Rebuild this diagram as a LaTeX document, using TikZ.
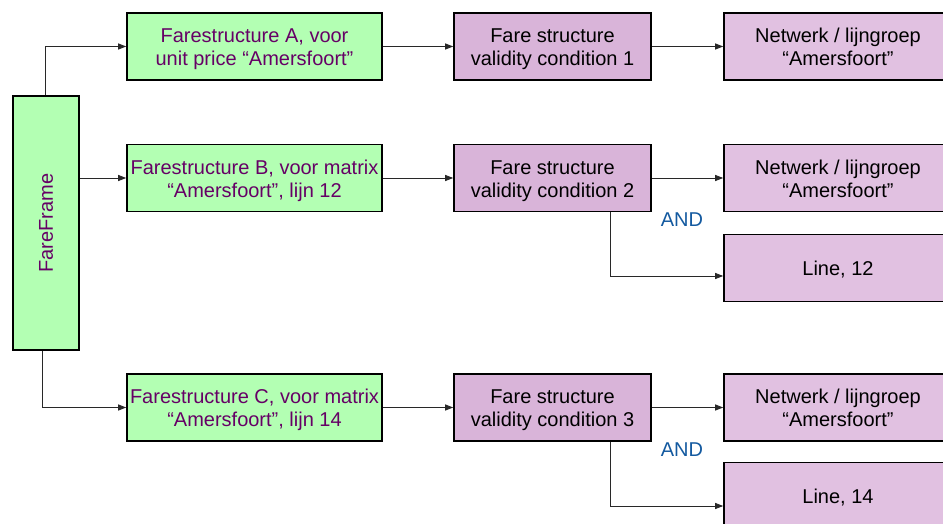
\documentclass[tikz,border=0pt]{standalone}
\usepackage{fontspec}
\setmainfont{Liberation Sans}
\usetikzlibrary{arrows.meta}
\definecolor{boxgreen}{RGB}{179,255,179}
\definecolor{txtpurple}{RGB}{102,0,102}
\definecolor{condfill}{RGB}{217,180,217}
\definecolor{netfill}{RGB}{225,193,225}
\definecolor{andblue}{RGB}{20,90,160}
\definecolor{linegray}{RGB}{40,40,40}
\newcommand{\bxt}[1]{\raisebox{-3bp}[\height][\depth]{\begin{tabular}{@{}c@{}}#1\end{tabular}}}
\tikzset{
  basebox/.style={draw=black, line width=1.6bp, inner sep=0pt, align=center,
    font=\fontsize{20bp}{23bp}\selectfont},
  greenbox/.style={basebox, fill=boxgreen, text=txtpurple, minimum width=255bp, minimum height=67bp},
  condbox/.style={basebox, fill=condfill, text=black, minimum width=197bp, minimum height=67bp},
  netbox/.style={basebox, fill=netfill, text=black, minimum width=228bp, minimum height=67bp},
  arr/.style={draw=linegray, line width=0.9bp, -{Triangle[length=8bp,width=6bp]}},
  andlabel/.style={text=andblue, font=\fontsize{20bp}{23bp}\selectfont, inner sep=0pt}
}
\begin{document}
\begin{tikzpicture}[x=1bp,y=-1bp]
\clip (0,0) rectangle (943,524);
\fill[white] (0,0) rectangle (943,524);
% FareFrame
\node[basebox, fill=boxgreen, text=txtpurple, minimum width=66bp, minimum height=254bp] (ff) at (46,223) {};
\node[text=txtpurple, rotate=90, font=\fontsize{20bp}{23bp}\selectfont, inner sep=0pt] (fft) at (ff.center) {FareFrame};
% column 1
\node[greenbox] (fsA) at (254.5,46.5) {\bxt{Farestructure A, voor\\unit price “Amersfoort”}};
\node[greenbox] (fsB) at (254.5,178) {\bxt{Farestructure B, voor matrix\\“Amersfoort”, lijn 12}};
\node[greenbox] (fsC) at (254.5,407.5) {\bxt{Farestructure C, voor matrix\\“Amersfoort”, lijn 14}};
% column 2
\node[condbox] (c1) at (552.5,46.5) {\bxt{Fare structure\\validity condition 1}};
\node[condbox] (c2) at (552.5,178) {\bxt{Fare structure\\validity condition 2}};
\node[condbox] (c3) at (552.5,407.5) {\bxt{Fare structure\\validity condition 3}};
% column 3
\node[netbox] (n1) at (838,46.5) {\bxt{Netwerk / lijngroep\\“Amersfoort”}};
\node[netbox] (n2) at (838,178) {\bxt{Netwerk / lijngroep\\“Amersfoort”}};
\node[netbox] (l12) at (838,268) {\bxt{Line, 12}};
\node[netbox] (n3) at (838,407.5) {\bxt{Netwerk / lijngroep\\“Amersfoort”}};
\node[netbox] (l14) at (838,496) {\bxt{Line, 14}};
% AND labels
\node[andlabel] (and2) at (682,220) {AND};
\node[andlabel] (and3) at (682,450) {AND};
% connectors
\coordinate (vff) at (42,0);
\coordinate (v2) at (610,0);
\draw[arr] ([xshift=-1bp]ff.north) |- (fsA.west);
\draw[arr] (ff.east |- fsB.west) -- (fsB.west);
\draw[arr] (ff.south -| vff) |- (fsC.west);
\draw[arr] (fsA.east) -- (c1.west);
\draw[arr] (fsB.east) -- (c2.west);
\draw[arr] (fsC.east) -- (c3.west);
\draw[arr] (c1.east) -- (n1.west);
\draw[arr] (c2.east) -- (n2.west);
\draw[arr] (c3.east) -- (n3.west);
\draw[arr] (c2.south -| v2) |- ([yshift=-8bp]l12.west);
\draw[arr] (c3.south -| v2) |- ([yshift=-10bp]l14.west);
\end{tikzpicture}
\end{document}
